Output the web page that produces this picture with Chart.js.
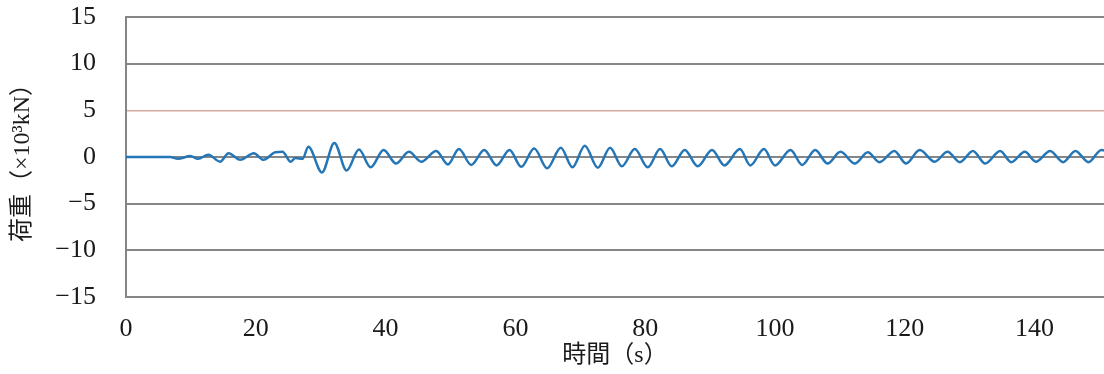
<!DOCTYPE html>
<html lang="ja">
<head>
<meta charset="UTF-8" />
<title>荷重-時間</title>
<style>
  html, body { margin: 0; padding: 0; background: #fff; }
  #wrap { width: 1104px; height: 374px; }
</style>
</head>
<body>
<div id="wrap"><canvas id="c" width="1104" height="374"></canvas></div>
<script src="https://cdn.jsdelivr.net/npm/chart.js"></script>
<script>
// time (s) and load (x10^3 kN), peaks/troughs
const time = [0, 6.8, 8.0, 9.9, 11.1, 12.7, 14.5, 15.8, 17.6, 19.7, 21.2, 23.0, 24.1, 25.4, 26.1, 27.2,
  28.1, 30.2, 32.1, 34.0, 35.9, 37.7, 39.7, 41.6, 43.6, 45.5, 47.8, 49.6, 51.3, 53.2, 55.2, 57.1, 59.1,
  60.9, 62.9, 64.9, 67.0, 68.8, 70.7, 72.7, 74.6, 76.4, 78.4, 80.4, 82.3, 84.1, 86.1, 88.1, 90.3,
  92.2, 94.6, 96.2, 98.3, 100.0, 102.4, 104.2, 106.2, 108.1, 110.1, 112.3, 114.3, 116.1, 118.4,
  120.2, 122.3, 124.6, 126.6, 128.5, 130.5, 132.4, 134.7, 136.4, 138.5, 140.2, 142.4, 144.4,
  146.3, 148.3, 150.3, 150.7];
const load = [0, 0, -0.2, 0.1, -0.2, 0.25, -0.5, 0.4, -0.3, 0.4, -0.3, 0.5, 0.55, -0.5, -0.1, -0.2,
  1.1, -1.65, 1.5, -1.45, 0.8, -1.1, 0.75, -0.7, 0.55, -0.5, 0.65, -0.8, 0.85, -0.85, 0.75, -0.9, 0.75,
  -1.05, 0.9, -1.2, 1.0, -1.1, 1.2, -1.15, 1.0, -1.0, 0.85, -1.1, 0.85, -1.0, 0.75, -1.0, 0.75,
  -0.9, 0.85, -0.9, 0.85, -0.9, 0.75, -0.85, 0.75, -0.7, 0.55, -0.7, 0.5, -0.55, 0.65,
  -0.7, 0.75, -0.5, 0.55, -0.55, 0.65, -0.7, 0.65, -0.55, 0.55, -0.5, 0.65, -0.55,
  0.65, -0.55, 0.75, 0.7];

const xTicks = [0, 20, 40, 60, 80, 100, 120, 140];
const yTicks = [-15, -10, -5, 0, 5, 10, 15];

const serif = '"Liberation Serif", "Noto Sans CJK JP", serif';
const gridGrey = '#868686';

const points = time.map((t, i) => ({ x: t, y: load[i] }));

new Chart(document.getElementById('c'), {
  type: 'line',
  data: {
    datasets: [{
      data: points,
      borderColor: '#2476b6',
      borderWidth: 2.5,
      pointRadius: 0,
      fill: false,
      cubicInterpolationMode: 'monotone'
    }]
  },
  options: {
    responsive: false,
    animation: false,
    layout: { padding: 0 },
    plugins: { legend: { display: false }, tooltip: { enabled: false } },
    scales: {
      x: {
        type: 'linear',
        min: 0,
        max: 150.7,
        afterBuildTicks: s => { s.ticks = xTicks.map(v => ({ value: v })); },
        afterFit: s => { s.height = 77; s.paddingRight = 0; },
        grid: { display: false, drawTicks: false },
        border: { display: false },
        ticks: {
          maxRotation: 0,
          padding: 17,
          color: '#1a1a1a',
          font: { family: serif, size: 26 }
        },
        title: {
          display: true,
          text: '時間（s）',
          color: '#1a1a1a',
          font: { family: serif, size: 24 },
          padding: { top: 0, bottom: 4 }
        }
      },
      y: {
        min: -15,
        max: 15,
        afterBuildTicks: s => { s.ticks = yTicks.map(v => ({ value: v })); },
        afterFit: s => { s.width = 126; s.paddingTop = 17; s.paddingBottom = 0; },
        grid: {
          drawTicks: false,
          color: c => (c.tick && c.tick.value === 5) ? '#d6aa9f' : gridGrey,
          lineWidth: c => (c.tick && c.tick.value === 5) ? 1.5 : 2
        },
        border: { display: true, color: gridGrey, width: 2 },
        ticks: {
          padding: 30,
          color: '#1a1a1a',
          font: { family: serif, size: 26 },
          callback: v => (v < 0 ? '\u2212' + Math.abs(v) : String(v))
        },
        title: {
          display: true,
          text: '荷重（×10³kN）',
          color: '#1a1a1a',
          font: { family: serif, size: 24 },
          padding: { top: 8, bottom: 0 }
        }
      }
    }
  }
});
</script>
</body>
</html>
